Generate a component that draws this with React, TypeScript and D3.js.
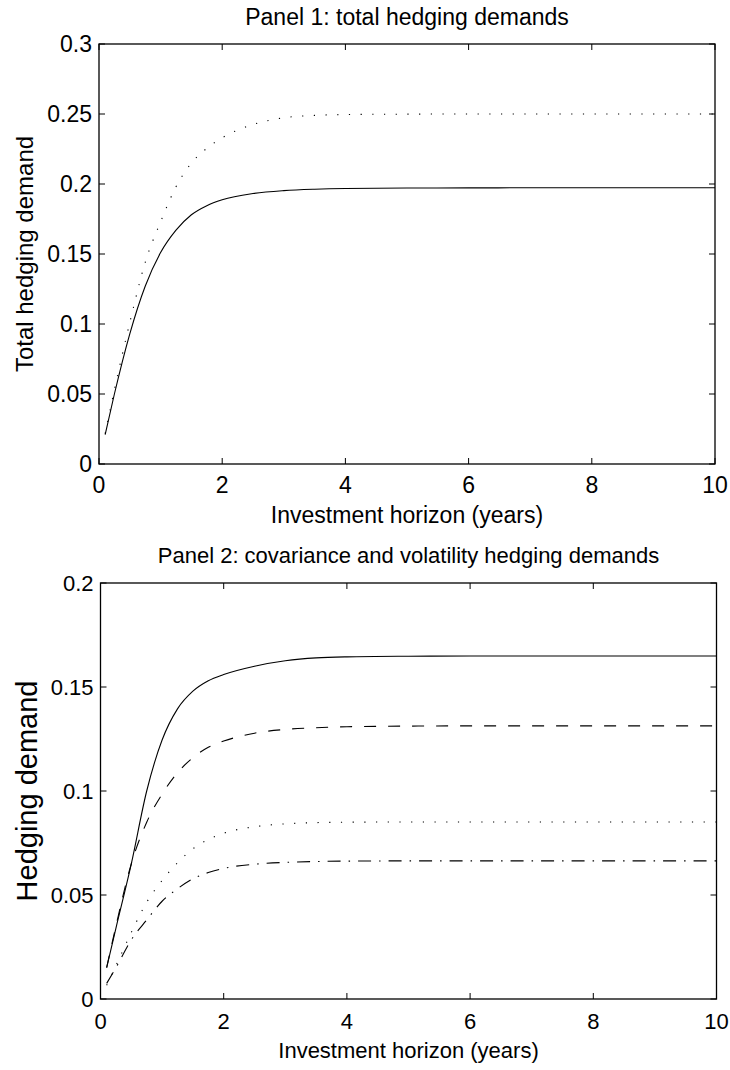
import React from "react";
import * as d3 from "d3";

// Investment horizon grid (years)
const horizon = [0.1, 0.25, 0.5, 0.75, 1, 1.25, 1.5, 1.75, 2, 2.5, 3, 3.5, 4, 5, 6, 7, 8, 9, 10];

// Panel 1: total hedging demands
const totalSolid = [0.021, 0.05, 0.093, 0.127, 0.151, 0.167, 0.178, 0.1845, 0.1887, 0.1932, 0.1953, 0.1963, 0.1968, 0.1971, 0.1972, 0.1973, 0.1973, 0.1973, 0.1973];
const totalDotted = [0.0217, 0.053, 0.101, 0.144, 0.173, 0.198, 0.215, 0.2255, 0.233, 0.2425, 0.2473, 0.249, 0.2496, 0.2499, 0.25, 0.25, 0.25, 0.25, 0.25];

// Panel 2: covariance and volatility hedging demands
const hedgeSolid = [0.0151, 0.034, 0.065, 0.1, 0.1245, 0.1395, 0.148, 0.153, 0.156, 0.16, 0.1626, 0.164, 0.1645, 0.1648, 0.1649, 0.1649, 0.1649, 0.1649, 0.1649];
const hedgeDashed = [0.0151, 0.035, 0.065, 0.085, 0.0985, 0.1088, 0.116, 0.121, 0.124, 0.1278, 0.1296, 0.1304, 0.1309, 0.1312, 0.1313, 0.1313, 0.1313, 0.1313, 0.1313];
const hedgeDotted = [0.0066, 0.016, 0.032, 0.0465, 0.057, 0.0655, 0.0722, 0.0767, 0.0797, 0.0828, 0.0842, 0.0848, 0.085, 0.0851, 0.0851, 0.0851, 0.0851, 0.0851, 0.0851];
const hedgeDashDot = [0.0075, 0.015, 0.0285, 0.038, 0.047, 0.053, 0.0578, 0.0608, 0.0628, 0.0648, 0.0657, 0.0661, 0.0663, 0.0664, 0.0664, 0.0664, 0.0664, 0.0664, 0.0664];

const xTicks = [0, 2, 4, 6, 8, 10];
const xTickLabels = ["0", "2", "4", "6", "8", "10"];
const yTicks1 = [0, 0.05, 0.1, 0.15, 0.2, 0.25, 0.3];
const yTickLabels1 = ["0", "0.05", "0.1", "0.15", "0.2", "0.25", "0.3"];
const yTicks2 = [0, 0.05, 0.1, 0.15, 0.2];
const yTickLabels2 = ["0", "0.05", "0.1", "0.15", "0.2"];

const FONT = "'Liberation Sans', Arial, Helvetica, sans-serif";

type Series = { values: number[]; dash?: string; cap?: string };

type PanelProps = {
  left: number;
  right: number;
  top: number;
  bottom: number;
  yMax: number;
  yTicks: number[];
  yTickLabels: string[];
  series: Series[];
  title: string;
  titleY: number;
  titleSize: number;
  yLabel: string;
  yLabelX: number;
  yLabelSize: number;
  tickSize: number;
  xTickY: number;
  xLabelY: number;
  xLabelSize: number;
};

function Panel(p: PanelProps) {
  const x = d3.scaleLinear().domain([0, 10]).range([p.left, p.right]);
  const y = d3.scaleLinear().domain([0, p.yMax]).range([p.bottom, p.top]);
  const line = d3
    .line<number>()
    .x((_, i) => x(horizon[i]))
    .y((v) => y(v))
    .curve(d3.curveMonotoneX);
  const tl = 6;
  const cx = (p.left + p.right) / 2;
  const cy = (p.top + p.bottom) / 2;
  return (
    <g>
      <text x={cx} y={p.titleY} textAnchor="middle" fontSize={p.titleSize} fontFamily={FONT} fill="#000">
        {p.title}
      </text>
      {p.series.map((s, i) => (
        <path
          key={i}
          d={line(s.values) || ""}
          fill="none"
          stroke="#000"
          strokeWidth={1.1}
          strokeDasharray={s.dash}
          strokeLinecap={(s.cap as any) || "butt"}
        />
      ))}
      <rect
        x={p.left}
        y={p.top}
        width={p.right - p.left}
        height={p.bottom - p.top}
        fill="none"
        stroke="#000"
        strokeWidth={1.3}
      />
      {xTicks.map((t, i) => (
        <g key={"x" + i}>
          <line x1={x(t)} x2={x(t)} y1={p.bottom} y2={p.bottom - tl} stroke="#000" strokeWidth={1} />
          <line x1={x(t)} x2={x(t)} y1={p.top} y2={p.top + tl} stroke="#000" strokeWidth={1} />
          <text x={x(t)} y={p.xTickY} textAnchor="middle" fontSize={p.tickSize} fontFamily={FONT} fill="#000">
            {xTickLabels[i]}
          </text>
        </g>
      ))}
      {p.yTicks.map((t, i) => (
        <g key={"y" + i}>
          <line x1={p.left} x2={p.left + tl} y1={y(t)} y2={y(t)} stroke="#000" strokeWidth={1} />
          <line x1={p.right} x2={p.right - tl} y1={y(t)} y2={y(t)} stroke="#000" strokeWidth={1} />
          <text
            x={p.left - 7}
            y={y(t)}
            dy="0.36em"
            textAnchor="end"
            fontSize={p.tickSize}
            fontFamily={FONT}
            fill="#000"
          >
            {p.yTickLabels[i]}
          </text>
        </g>
      ))}
      <text x={cx} y={p.xLabelY} textAnchor="middle" fontSize={p.xLabelSize} fontFamily={FONT} fill="#000">
        Investment horizon (years)
      </text>
      <text
        transform={`translate(${p.yLabelX},${cy}) rotate(-90)`}
        textAnchor="middle"
        fontSize={p.yLabelSize}
        fontFamily={FONT}
        fill="#000"
      >
        {p.yLabel}
      </text>
    </g>
  );
}

export default function App() {
  return (
    <svg
      width={730}
      height={1070}
      viewBox="0 0 730 1070"
      style={{ position: "absolute", left: 0, top: 0, background: "#fff" }}
    >
      <rect x={0} y={0} width={730} height={1070} fill="#fff" />
      <Panel
        left={99}
        right={715}
        top={44}
        bottom={464}
        yMax={0.3}
        yTicks={yTicks1}
        yTickLabels={yTickLabels1}
        series={[
          { values: totalSolid },
          { values: totalDotted, dash: "1.2,10.5" },
        ]}
        title="Panel 1: total hedging demands"
        titleY={25}
        titleSize={23}
        yLabel="Total hedging demand"
        yLabelX={33}
        yLabelSize={24}
        tickSize={23}
        xTickY={493}
        xLabelY={523}
        xLabelSize={23}
      />
      <Panel
        left={100.5}
        right={716.5}
        top={583}
        bottom={999}
        yMax={0.2}
        yTicks={yTicks2}
        yTickLabels={yTickLabels2}
        series={[
          { values: hedgeSolid },
          { values: hedgeDashed, dash: "12,12" },
          { values: hedgeDotted, dash: "1.2,10.5" },
          { values: hedgeDashDot, dash: "13,8,1.5,8" },
        ]}
        title="Panel 2: covariance and volatility hedging demands"
        titleY={563}
        titleSize={22}
        yLabel="Hedging demand"
        yLabelX={37}
        yLabelSize={29}
        tickSize={22}
        xTickY={1029}
        xLabelY={1058}
        xLabelSize={22}
      />
    </svg>
  );
}
